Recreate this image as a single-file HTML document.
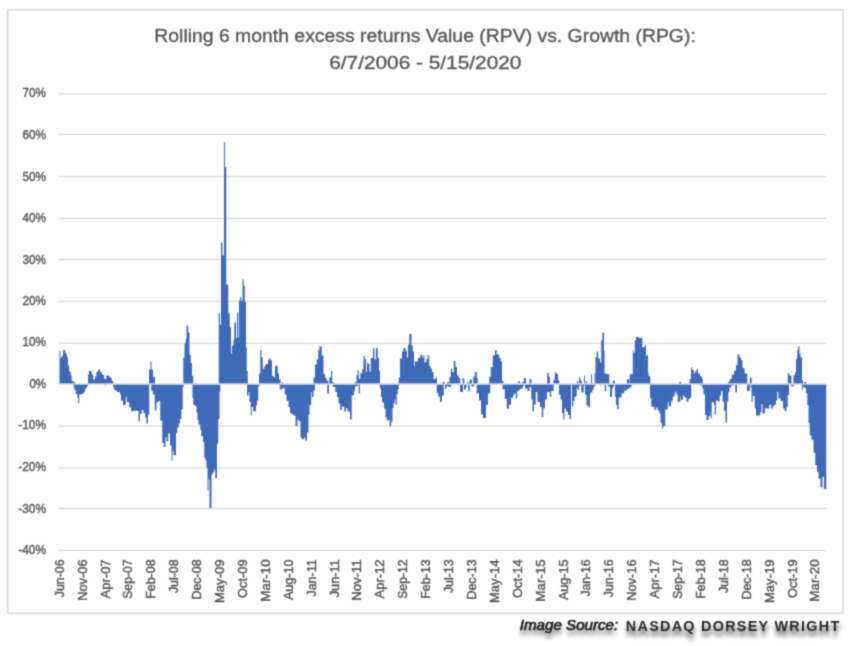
<!DOCTYPE html><html><head><meta charset="utf-8"><style>html,body{margin:0;padding:0;background:#fff;}svg{display:block;font-family:"Liberation Sans",sans-serif;will-change:transform;}</style></head><body><svg xml:space="preserve" width="853" height="646" viewBox="0 0 853 646" font-family="Liberation Sans, sans-serif"><defs><filter id="soft" x="0" y="0" width="853" height="646" filterUnits="userSpaceOnUse" color-interpolation-filters="sRGB"><feConvolveMatrix order="3" kernelMatrix="1 2 1 2 10 2 1 2 1" divisor="22" edgeMode="duplicate"/></filter></defs><g filter="url(#soft)"><rect width="853" height="646" fill="#fff"/><rect x="7.7" y="9.7" width="835.2" height="603.6" fill="none" stroke="#d6d6d6" stroke-width="1.5"/><g fill="#595959" stroke="#595959" stroke-width="0.4" font-size="19.2"><text x="154.3" y="41.9" textLength="541.5" lengthAdjust="spacingAndGlyphs">Rolling 6 month excess returns Value (RPV)  vs. Growth (RPG):</text><text x="329.2" y="68.9" textLength="192.2" lengthAdjust="spacingAndGlyphs">6/7/2006 - 5/15/2020</text></g><rect x="58.9" y="93.45" width="767.3" height="1.1" fill="#d6d6d6"/><rect x="58.9" y="133.95" width="767.3" height="1.1" fill="#d6d6d6"/><rect x="58.9" y="175.95" width="767.3" height="1.1" fill="#d6d6d6"/><rect x="58.9" y="217.95" width="767.3" height="1.1" fill="#d6d6d6"/><rect x="58.9" y="258.85" width="767.3" height="1.1" fill="#d6d6d6"/><rect x="58.9" y="300.75" width="767.3" height="1.1" fill="#d6d6d6"/><rect x="58.9" y="342.75" width="767.3" height="1.1" fill="#d6d6d6"/><rect x="58.9" y="425.45" width="767.3" height="1.1" fill="#d6d6d6"/><rect x="58.9" y="467.45" width="767.3" height="1.1" fill="#d6d6d6"/><rect x="58.9" y="507.95" width="767.3" height="1.1" fill="#d6d6d6"/><rect x="58.9" y="549.95" width="767.3" height="1.1" fill="#d6d6d6"/><g font-size="12.8" fill="#595959" stroke="#595959" stroke-width="0.45"><text x="46.0" y="96.69" text-anchor="end" textLength="23.51" lengthAdjust="spacingAndGlyphs">70%</text><text x="46.0" y="138.69" text-anchor="end" textLength="23.51" lengthAdjust="spacingAndGlyphs">60%</text><text x="46.0" y="180.79" text-anchor="end" textLength="23.51" lengthAdjust="spacingAndGlyphs">50%</text><text x="46.0" y="221.69" text-anchor="end" textLength="23.51" lengthAdjust="spacingAndGlyphs">40%</text><text x="46.0" y="263.69" text-anchor="end" textLength="23.51" lengthAdjust="spacingAndGlyphs">30%</text><text x="46.0" y="305.49" text-anchor="end" textLength="23.51" lengthAdjust="spacingAndGlyphs">20%</text><text x="46.0" y="346.29" text-anchor="end" textLength="23.51" lengthAdjust="spacingAndGlyphs">10%</text><text x="46.0" y="388.29" text-anchor="end" textLength="16.62" lengthAdjust="spacingAndGlyphs">0%</text><text x="46.0" y="429.09" text-anchor="end" textLength="27.68" lengthAdjust="spacingAndGlyphs">-10%</text><text x="46.0" y="471.29" text-anchor="end" textLength="27.68" lengthAdjust="spacingAndGlyphs">-20%</text><text x="46.0" y="513.09" text-anchor="end" textLength="27.68" lengthAdjust="spacingAndGlyphs">-30%</text><text x="46.0" y="553.89" text-anchor="end" textLength="27.68" lengthAdjust="spacingAndGlyphs">-40%</text></g><path fill="#3F69B9" d="M59.50 351.0h1.00V384.0h-1.00ZM60.50 357.9h1.25V384.0h-1.25ZM61.75 356.0h1.25V384.0h-1.25ZM63.00 352.8h0.25V384.0h-0.25ZM63.25 350.0h2.00V384.0h-2.00ZM65.25 352.8h0.75V384.0h-0.75ZM66.00 354.2h1.00V384.0h-1.00ZM67.00 357.0h1.00V384.0h-1.00ZM68.00 365.4h1.00V384.0h-1.00ZM69.00 370.9h0.75V384.0h-0.75ZM69.75 371.9h1.00V384.0h-1.00ZM70.75 375.6h1.00V384.0h-1.00ZM71.75 381.1h1.00V384.0h-1.00ZM72.75 381.6h0.75V384.0h-0.75ZM73.50 381.6h0.75V387.6h-0.75ZM74.25 382.5h0.25V387.6h-0.25ZM74.50 382.5h1.00V390.4h-1.00ZM75.50 384.0h0.50V390.4h-0.50ZM76.00 384.0h1.25V394.1h-1.25ZM77.25 384.0h1.00V397.4h-1.00ZM78.25 384.0h1.00V403.0h-1.00ZM79.25 384.0h1.50V394.6h-1.50ZM80.75 384.0h2.25V394.1h-2.25ZM83.00 384.0h1.00V393.2h-1.00ZM84.00 384.0h1.25V391.4h-1.25ZM85.25 384.0h1.50V388.6h-1.50ZM86.75 384.0h1.25V386.2h-1.25ZM88.00 374.6h1.00V384.0h-1.00ZM89.00 370.9h2.75V384.0h-2.75ZM91.75 374.6h1.50V384.0h-1.50ZM93.25 379.7h1.25V384.0h-1.25ZM94.50 378.5h0.50V384.0h-0.50ZM95.00 376.6h1.50V384.0h-1.50ZM96.50 371.7h1.75V384.0h-1.75ZM98.25 369.8h2.00V384.0h-2.00ZM100.25 372.3h1.75V384.0h-1.75ZM102.00 374.8h2.00V384.0h-2.00ZM104.00 378.5h1.25V384.0h-1.25ZM105.25 378.5h0.25V385.7h-0.25ZM105.50 379.7h0.50V385.7h-0.50ZM106.00 379.7h0.25V384.0h-0.25ZM106.25 375.4h2.50V384.0h-2.50ZM108.75 376.6h1.50V384.0h-1.50ZM110.25 377.9h1.50V384.0h-1.50ZM111.75 381.0h1.25V384.0h-1.25ZM113.00 381.0h0.25V387.2h-0.25ZM113.25 384.0h1.00V387.2h-1.00ZM114.25 384.0h2.50V390.2h-2.50ZM116.75 384.0h3.25V392.1h-3.25ZM120.00 384.0h1.00V394.6h-1.00ZM121.00 384.0h2.00V400.8h-2.00ZM123.00 384.0h2.75V405.1h-2.75ZM125.75 384.0h1.00V397.0h-1.00ZM126.75 384.0h2.50V402.0h-2.50ZM129.25 384.0h1.75V407.0h-1.75ZM131.00 384.0h2.00V411.3h-2.00ZM133.00 384.0h5.50V410.7h-5.50ZM138.50 384.0h1.50V421.2h-1.50ZM140.00 384.0h1.75V413.8h-1.75ZM141.75 384.0h1.75V410.0h-1.75ZM143.50 384.0h1.75V413.2h-1.75ZM145.25 384.0h1.25V417.5h-1.25ZM146.50 384.0h1.50V423.7h-1.50ZM148.00 384.0h1.00V414.4h-1.00ZM149.00 369.5h0.25V414.4h-0.25ZM149.25 369.5h1.25V384.0h-1.25ZM150.50 361.5h0.75V384.0h-0.75ZM151.25 361.5h0.25V391.1h-0.25ZM151.50 369.5h1.25V391.1h-1.25ZM152.75 369.5h0.25V394.6h-0.25ZM153.00 377.0h1.75V394.6h-1.75ZM154.75 377.0h0.25V410.6h-0.25ZM155.00 384.0h1.50V410.6h-1.50ZM156.50 384.0h2.00V402.3h-2.00ZM158.50 384.0h1.75V400.9h-1.75ZM160.25 384.0h2.00V420.4h-2.00ZM162.25 384.0h1.50V442.7h-1.50ZM163.75 384.0h1.75V446.9h-1.75ZM165.50 384.0h1.00V437.1h-1.00ZM166.50 384.0h1.75V441.3h-1.75ZM168.25 384.0h1.75V433.6h-1.75ZM170.00 384.0h1.50V445.5h-1.50ZM171.50 384.0h1.00V460.8h-1.00ZM172.50 384.0h1.00V451.0h-1.00ZM173.50 384.0h2.50V455.2h-2.50ZM176.00 384.0h1.25V432.9h-1.25ZM177.25 384.0h1.50V427.4h-1.50ZM178.75 384.0h1.25V423.2h-1.25ZM180.00 384.0h1.50V419.0h-1.50ZM181.50 384.0h1.25V409.3h-1.25ZM182.75 384.0h0.50V387.0h-0.50ZM183.25 357.8h0.25V387.0h-0.25ZM183.50 357.8h1.00V384.0h-1.00ZM184.50 343.5h1.25V384.0h-1.25ZM185.75 338.6h0.75V384.0h-0.75ZM186.50 325.6h1.75V384.0h-1.75ZM188.25 332.4h1.25V384.0h-1.25ZM189.50 354.7h1.25V384.0h-1.25ZM190.75 363.3h1.25V384.0h-1.25ZM192.00 375.7h0.50V384.0h-0.50ZM192.50 375.7h0.75V397.9h-0.75ZM193.25 384.0h1.50V404.4h-1.50ZM194.75 384.0h1.75V406.0h-1.75ZM196.50 384.0h1.00V412.5h-1.00ZM197.50 384.0h1.00V420.1h-1.00ZM198.50 384.0h1.75V424.4h-1.75ZM200.25 384.0h1.00V429.8h-1.00ZM201.25 384.0h1.75V436.3h-1.75ZM203.00 384.0h1.25V442.0h-1.25ZM204.25 384.0h1.00V457.4h-1.00ZM205.25 384.0h1.25V460.3h-1.25ZM206.50 384.0h1.00V467.9h-1.00ZM207.50 384.0h1.00V491.1h-1.00ZM208.50 384.0h1.00V479.5h-1.00ZM209.50 384.0h2.00V507.9h-2.00ZM211.50 384.0h1.00V474.8h-1.00ZM212.50 384.0h1.75V472.5h-1.75ZM214.25 384.0h1.00V469.6h-1.00ZM215.25 384.0h1.75V478.3h-1.75ZM217.00 384.0h1.25V443.7h-1.25ZM218.25 384.0h0.50V419.0h-0.50ZM218.75 313.2h0.75V419.0h-0.75ZM219.50 313.2h0.50V391.9h-0.50ZM220.00 324.8h0.25V391.9h-0.25ZM220.25 324.8h0.75V384.0h-0.75ZM221.00 242.4h1.50V384.0h-1.50ZM222.50 255.4h1.50V384.0h-1.50ZM224.00 142.1h1.00V384.0h-1.00ZM225.00 167.0h1.25V384.0h-1.25ZM226.25 284.5h2.00V384.0h-2.00ZM228.25 313.2h1.50V384.0h-1.50ZM229.75 327.2h1.25V384.0h-1.25ZM231.00 353.5h1.00V384.0h-1.00ZM232.00 345.7h1.50V384.0h-1.50ZM233.50 339.5h0.75V384.0h-0.75ZM234.25 322.5h1.75V384.0h-1.75ZM236.00 338.0h1.00V384.0h-1.00ZM237.00 312.4h1.25V384.0h-1.25ZM238.25 338.0h0.75V384.0h-0.75ZM239.00 300.6h1.25V384.0h-1.25ZM240.25 296.9h1.25V384.0h-1.25ZM241.50 301.2h1.00V384.0h-1.00ZM242.50 279.5h1.25V384.0h-1.25ZM243.75 285.7h1.00V384.0h-1.00ZM244.75 301.8h1.25V384.0h-1.25ZM246.00 347.4h0.75V384.0h-0.75ZM246.75 371.0h0.25V384.0h-0.25ZM247.00 371.0h0.75V395.7h-0.75ZM247.75 384.0h0.75V395.7h-0.75ZM248.50 384.0h1.00V392.0h-1.00ZM249.50 384.0h1.25V401.9h-1.25ZM250.75 384.0h1.00V415.5h-1.00ZM251.75 384.0h1.50V406.9h-1.50ZM253.25 384.0h2.75V411.2h-2.75ZM256.00 384.0h1.00V405.6h-1.00ZM257.00 384.0h1.25V400.7h-1.25ZM258.25 384.0h0.75V386.4h-0.75ZM259.00 373.4h0.50V386.4h-0.50ZM259.50 373.4h0.75V384.0h-0.75ZM260.25 349.9h1.25V384.0h-1.25ZM261.50 357.3h1.25V384.0h-1.25ZM262.75 369.1h1.50V384.0h-1.50ZM264.25 366.0h1.25V384.0h-1.25ZM265.50 364.1h2.50V384.0h-2.50ZM268.00 359.8h1.25V384.0h-1.25ZM269.25 358.6h1.50V384.0h-1.50ZM270.75 360.4h1.25V384.0h-1.25ZM272.00 375.9h1.75V384.0h-1.75ZM273.75 377.2h1.25V384.0h-1.25ZM275.00 366.6h1.25V384.0h-1.25ZM276.25 365.4h1.50V384.0h-1.50ZM277.75 373.4h1.25V384.0h-1.25ZM279.00 379.6h0.75V384.0h-0.75ZM279.75 379.6h0.75V389.5h-0.75ZM280.50 384.0h1.25V389.5h-1.25ZM281.75 382.1h0.25V389.5h-0.25ZM282.00 382.1h1.00V388.3h-1.00ZM283.00 384.0h1.75V388.3h-1.75ZM284.75 384.0h1.75V394.5h-1.75ZM286.50 384.0h2.00V400.7h-2.00ZM288.50 384.0h1.50V406.9h-1.50ZM290.00 384.0h1.50V413.1h-1.50ZM291.50 384.0h2.00V414.3h-2.00ZM293.50 384.0h2.00V415.5h-2.00ZM295.50 384.0h2.00V426.1h-2.00ZM297.50 384.0h1.25V419.6h-1.25ZM298.75 384.0h1.75V421.3h-1.75ZM300.50 384.0h1.50V437.5h-1.50ZM302.00 384.0h2.00V439.2h-2.00ZM304.00 384.0h1.25V437.5h-1.25ZM305.25 384.0h1.75V440.8h-1.75ZM307.00 384.0h1.50V432.7h-1.50ZM308.50 384.0h1.00V414.8h-1.00ZM309.50 384.0h1.75V405.0h-1.75ZM311.25 384.0h0.75V392.0h-0.75ZM312.00 384.0h1.50V396.9h-1.50ZM313.50 377.4h1.50V390.4h-1.50ZM315.00 364.4h1.75V384.0h-1.75ZM316.75 359.5h1.50V384.0h-1.50ZM318.25 349.8h1.25V384.0h-1.25ZM319.50 346.5h2.25V384.0h-2.25ZM321.75 355.4h1.75V384.0h-1.75ZM323.50 374.1h1.50V384.0h-1.50ZM325.00 377.4h1.50V384.0h-1.50ZM326.50 380.6h0.75V384.0h-0.75ZM327.25 380.6h1.00V393.6h-1.00ZM328.25 384.0h0.75V393.6h-0.75ZM329.25 377.4h1.75V384.0h-1.75ZM331.00 370.9h1.25V384.0h-1.25ZM332.25 382.3h0.75V384.0h-0.75ZM333.00 382.3h1.00V387.1h-1.00ZM334.00 384.0h1.25V387.1h-1.25ZM335.25 384.0h1.75V392.0h-1.75ZM337.00 384.0h1.50V396.9h-1.50ZM338.50 384.0h1.75V403.4h-1.75ZM340.25 384.0h1.75V409.9h-1.75ZM342.00 384.0h2.25V406.6h-2.25ZM344.25 384.0h1.75V411.5h-1.75ZM346.00 384.0h1.50V408.3h-1.50ZM347.50 384.0h2.50V411.5h-2.50ZM350.00 384.0h1.75V419.6h-1.75ZM351.75 384.0h2.25V395.3h-2.25ZM354.00 384.0h0.75V391.3h-0.75ZM354.75 382.2h0.25V391.3h-0.25ZM355.00 382.2h1.50V386.4h-1.50ZM356.50 375.3h1.00V385.7h-1.00ZM357.50 370.4h1.00V385.7h-1.00ZM358.50 370.4h0.25V384.0h-0.25ZM358.75 378.8h1.25V393.4h-1.25ZM360.00 378.8h0.25V384.0h-0.25ZM360.25 373.2h2.00V384.0h-2.00ZM362.25 369.0h1.25V384.0h-1.25ZM363.50 355.8h1.25V384.0h-1.25ZM364.75 359.3h1.25V384.0h-1.25ZM366.00 371.8h1.00V384.0h-1.00ZM367.00 362.7h1.25V384.0h-1.25ZM368.25 364.1h1.25V384.0h-1.25ZM369.50 371.8h1.25V384.0h-1.25ZM370.75 357.9h2.25V384.0h-2.25ZM373.00 348.1h1.50V384.0h-1.50ZM374.50 359.3h1.50V384.0h-1.50ZM376.00 348.1h1.75V384.0h-1.75ZM377.75 357.9h1.25V384.0h-1.25ZM379.00 370.4h0.75V384.0h-0.75ZM379.75 370.4h0.25V388.5h-0.25ZM380.00 384.0h1.00V388.5h-1.00ZM381.00 384.0h1.00V397.0h-1.00ZM382.00 384.0h2.00V402.4h-2.00ZM384.00 384.0h1.50V408.6h-1.50ZM385.50 384.0h1.25V417.2h-1.25ZM386.75 384.0h2.25V420.6h-2.25ZM389.00 384.0h0.75V419.5h-0.75ZM389.75 384.0h1.50V426.4h-1.50ZM391.25 384.0h1.25V421.8h-1.25ZM392.50 384.0h1.00V407.9h-1.00ZM393.50 384.0h1.25V403.2h-1.25ZM394.75 384.0h0.75V399.3h-0.75ZM395.50 384.0h1.25V404.8h-1.25ZM396.75 384.0h1.00V393.9h-1.00ZM397.75 384.0h1.00V389.3h-1.00ZM398.75 377.4h1.25V384.0h-1.25ZM400.00 358.4h2.00V384.0h-2.00ZM402.00 351.6h1.50V384.0h-1.50ZM403.50 347.9h2.25V384.0h-2.25ZM405.75 351.0h1.25V384.0h-1.25ZM407.00 357.8h1.00V384.0h-1.00ZM408.00 344.8h1.25V384.0h-1.25ZM409.25 333.7h2.25V384.0h-2.25ZM411.50 345.4h1.25V384.0h-1.25ZM412.75 351.6h1.25V384.0h-1.25ZM414.00 365.9h0.75V384.0h-0.75ZM414.75 361.5h3.25V384.0h-3.25ZM418.00 357.8h2.25V384.0h-2.25ZM420.25 354.7h2.25V384.0h-2.25ZM422.50 357.8h1.00V384.0h-1.00ZM423.50 355.3h1.00V384.0h-1.00ZM424.50 362.2h2.00V384.0h-2.00ZM426.50 359.1h1.25V384.0h-1.25ZM427.75 355.3h1.50V384.0h-1.50ZM429.25 365.9h1.25V384.0h-1.25ZM430.50 368.3h1.50V384.0h-1.50ZM432.00 372.1h1.50V384.0h-1.50ZM433.50 378.9h2.25V384.0h-2.25ZM435.75 377.6h1.00V384.0h-1.00ZM436.75 377.6h0.25V393.1h-0.25ZM437.00 384.0h1.25V393.1h-1.25ZM438.25 384.0h1.75V396.8h-1.75ZM440.00 384.0h2.00V401.8h-2.00ZM442.00 384.0h0.50V395.6h-0.50ZM442.50 382.0h1.25V395.6h-1.25ZM443.75 382.0h1.00V384.4h-1.00ZM444.75 384.0h0.25V384.4h-0.25ZM445.00 384.0h1.50V388.8h-1.50ZM446.50 384.0h0.50V386.3h-0.50ZM447.00 382.2h1.75V386.3h-1.75ZM448.75 382.2h0.75V386.9h-0.75ZM449.50 377.0h1.25V386.9h-1.25ZM450.75 369.0h0.25V386.9h-0.25ZM451.00 369.0h1.00V384.0h-1.00ZM452.00 372.1h1.75V384.0h-1.75ZM453.75 360.9h1.75V384.0h-1.75ZM455.50 367.1h1.50V384.0h-1.50ZM457.00 375.2h1.25V384.0h-1.25ZM458.25 377.0h0.75V384.0h-0.75ZM459.00 378.2h1.00V384.0h-1.00ZM460.00 378.2h0.25V392.1h-0.25ZM460.25 384.0h2.25V392.1h-2.25ZM462.50 378.2h0.50V392.1h-0.50ZM463.00 378.2h1.00V384.0h-1.00ZM464.00 378.2h0.25V390.0h-0.25ZM464.25 384.0h1.25V390.0h-1.25ZM465.50 384.0h1.00V387.9h-1.00ZM467.00 382.4h1.25V384.0h-1.25ZM468.25 382.4h1.50V391.4h-1.50ZM469.75 379.6h1.50V384.0h-1.50ZM471.25 379.6h0.75V386.5h-0.75ZM472.00 384.0h1.25V386.5h-1.25ZM473.25 376.8h1.00V386.5h-1.00ZM474.25 376.8h0.50V384.0h-0.50ZM474.75 371.9h2.00V384.0h-2.00ZM476.75 378.2h1.00V393.5h-1.00ZM477.75 384.0h1.25V393.5h-1.25ZM479.00 384.0h2.00V400.5h-2.00ZM481.00 384.0h2.00V414.4h-2.00ZM483.00 384.0h3.00V417.9h-3.00ZM486.00 384.0h2.00V404.7h-2.00ZM488.00 384.0h1.25V393.5h-1.25ZM489.25 376.8h1.00V393.5h-1.00ZM490.25 376.8h0.50V384.0h-0.50ZM490.75 367.0h2.00V384.0h-2.00ZM492.75 355.2h2.25V384.0h-2.25ZM495.00 350.3h1.75V384.0h-1.75ZM496.75 354.5h2.50V384.0h-2.50ZM499.25 358.0h1.50V384.0h-1.50ZM500.75 361.5h1.25V384.0h-1.25ZM502.00 381.0h0.50V384.0h-0.50ZM502.50 381.0h1.00V389.3h-1.00ZM503.50 384.0h1.25V389.3h-1.25ZM504.75 384.0h2.00V399.1h-2.00ZM506.75 384.0h2.25V408.8h-2.25ZM509.00 384.0h2.00V404.7h-2.00ZM511.00 384.0h2.25V397.7h-2.25ZM513.25 384.0h1.25V394.9h-1.25ZM514.50 384.0h1.25V393.3h-1.25ZM515.75 384.0h1.50V398.3h-1.50ZM517.25 384.0h1.00V390.9h-1.00ZM518.25 381.0h0.75V390.9h-0.75ZM519.00 381.0h0.75V389.6h-0.75ZM519.75 384.0h1.25V389.6h-1.25ZM521.00 384.0h1.00V388.4h-1.00ZM522.00 382.2h0.75V388.4h-0.75ZM522.75 382.2h1.00V385.9h-1.00ZM523.75 377.9h0.25V385.9h-0.25ZM524.00 377.9h1.00V384.0h-1.00ZM525.00 377.9h1.00V388.4h-1.00ZM526.00 384.0h1.50V388.4h-1.50ZM527.50 384.0h2.00V390.9h-2.00ZM529.50 379.1h1.75V387.2h-1.75ZM531.25 379.1h0.25V399.5h-0.25ZM531.50 384.0h1.00V399.5h-1.00ZM532.50 384.0h1.50V411.3h-1.50ZM534.00 384.0h1.75V404.5h-1.75ZM535.75 384.0h1.75V392.1h-1.75ZM537.50 384.0h2.50V402.0h-2.50ZM540.00 384.0h1.75V407.0h-1.75ZM541.75 384.0h1.50V416.9h-1.50ZM543.25 384.0h1.75V408.2h-1.75ZM545.00 384.0h2.00V399.5h-2.00ZM547.00 384.0h0.25V392.1h-0.25ZM547.25 372.9h1.50V392.1h-1.50ZM548.75 376.6h0.75V392.1h-0.75ZM549.50 376.6h0.25V392.0h-0.25ZM549.75 376.6h0.25V397.0h-0.25ZM550.00 384.0h1.25V397.0h-1.25ZM551.25 384.0h2.25V390.9h-2.25ZM553.50 379.7h0.25V390.9h-0.25ZM553.75 379.7h1.00V384.0h-1.00ZM554.75 372.3h1.50V384.0h-1.50ZM556.25 374.1h1.75V384.0h-1.75ZM558.00 380.3h1.00V384.0h-1.00ZM559.00 380.3h0.25V394.7h-0.25ZM559.25 384.0h1.25V394.7h-1.25ZM560.50 384.0h1.50V399.4h-1.50ZM562.00 384.0h1.25V413.3h-1.25ZM563.25 384.0h1.25V419.8h-1.25ZM564.50 384.0h1.50V408.6h-1.50ZM566.00 384.0h2.00V411.4h-2.00ZM568.00 384.0h1.50V415.1h-1.50ZM569.50 384.0h1.50V419.3h-1.50ZM572.00 384.0h1.25V406.4h-1.25ZM573.25 384.0h1.25V401.0h-1.25ZM574.50 384.0h1.00V397.1h-1.00ZM575.50 384.0h1.25V396.3h-1.25ZM576.75 384.0h0.25V387.8h-0.25ZM577.00 381.2h0.75V387.8h-0.75ZM577.75 381.2h0.50V390.1h-0.50ZM578.25 384.0h0.75V390.1h-0.75ZM579.00 377.7h1.25V386.3h-1.25ZM580.25 377.7h0.25V384.0h-0.25ZM580.50 380.8h0.75V384.0h-0.75ZM581.25 380.8h0.50V392.5h-0.50ZM581.75 384.0h2.00V392.5h-2.00ZM583.75 384.0h0.25V385.5h-0.25ZM584.00 375.4h1.00V385.5h-1.00ZM585.00 384.0h1.00V394.8h-1.00ZM586.00 381.2h0.50V394.8h-0.50ZM586.50 381.2h0.75V405.6h-0.75ZM587.25 384.0h1.25V405.6h-1.25ZM588.50 384.0h1.50V407.6h-1.50ZM590.00 384.0h1.00V393.2h-1.00ZM591.00 374.3h1.00V392.5h-1.00ZM592.00 384.0h0.50V392.5h-0.50ZM592.50 384.0h1.25V389.4h-1.25ZM593.75 384.0h0.75V386.3h-0.75ZM594.50 373.1h0.75V386.3h-0.75ZM595.50 357.0h1.25V384.0h-1.25ZM596.75 351.5h1.50V384.0h-1.50ZM598.25 358.4h1.75V384.0h-1.75ZM600.00 362.6h0.25V384.0h-0.25ZM600.25 362.6h0.75V385.5h-0.75ZM601.00 362.6h0.25V384.0h-0.25ZM601.25 340.3h1.00V384.0h-1.00ZM602.25 332.7h1.75V384.0h-1.75ZM604.00 350.8h0.50V384.0h-0.50ZM604.50 373.5h0.25V384.0h-0.25ZM604.75 373.5h1.50V391.3h-1.50ZM606.25 373.5h0.25V384.0h-0.25ZM606.50 374.3h1.75V384.0h-1.75ZM608.25 374.3h1.00V386.7h-1.00ZM609.25 384.0h0.75V386.7h-0.75ZM610.00 384.0h2.00V397.1h-2.00ZM612.00 384.0h1.00V388.6h-1.00ZM613.00 380.8h0.25V388.6h-0.25ZM613.25 380.8h1.00V386.3h-1.00ZM614.25 380.8h0.75V384.0h-0.75ZM615.00 384.0h1.00V397.1h-1.00ZM616.00 384.0h1.25V404.9h-1.25ZM617.25 384.0h1.50V409.3h-1.50ZM618.75 384.0h2.75V397.4h-2.75ZM621.50 384.0h2.75V393.3h-2.75ZM624.25 384.0h2.75V390.5h-2.75ZM627.00 379.3h2.25V389.1h-2.25ZM629.25 384.0h0.50V387.5h-0.50ZM629.75 373.8h1.00V387.5h-1.00ZM630.75 374.3h0.75V387.5h-0.75ZM631.50 374.3h1.25V384.0h-1.25ZM632.75 350.0h0.75V384.0h-0.75ZM633.50 352.8h1.25V384.0h-1.25ZM634.75 340.5h1.25V384.0h-1.25ZM636.00 337.0h2.75V384.0h-2.75ZM638.75 338.1h3.50V384.0h-3.50ZM642.25 347.2h2.50V384.0h-2.50ZM644.75 345.1h1.25V384.0h-1.25ZM646.00 356.0h1.25V384.0h-1.25ZM647.25 354.2h0.75V384.0h-0.75ZM648.00 372.6h0.50V384.0h-0.50ZM648.50 376.0h1.50V384.0h-1.50ZM650.00 376.0h0.25V398.0h-0.25ZM650.25 384.0h1.00V398.0h-1.00ZM651.25 384.0h1.25V406.3h-1.25ZM652.50 384.0h2.00V407.1h-2.00ZM654.50 384.0h1.75V410.0h-1.75ZM656.25 384.0h1.50V407.5h-1.50ZM657.75 384.0h1.75V410.4h-1.75ZM659.50 384.0h1.00V413.6h-1.00ZM660.50 384.0h1.50V422.7h-1.50ZM662.00 384.0h1.25V428.4h-1.25ZM663.25 384.0h2.00V426.0h-2.00ZM665.25 384.0h2.50V409.5h-2.50ZM667.75 384.0h1.00V402.1h-1.00ZM668.75 384.0h2.25V406.3h-2.25ZM671.00 384.0h1.75V401.3h-1.75ZM672.75 384.0h1.75V396.4h-1.75ZM674.50 384.0h1.00V393.5h-1.00ZM675.50 384.0h1.00V391.5h-1.00ZM676.50 384.0h1.25V394.8h-1.25ZM677.75 384.0h1.50V401.7h-1.50ZM679.25 381.9h1.25V401.7h-1.25ZM680.50 381.9h0.50V396.4h-0.50ZM681.00 381.9h0.25V399.7h-0.25ZM681.25 384.0h1.75V399.7h-1.75ZM683.00 384.0h1.50V395.6h-1.50ZM684.50 384.0h2.00V397.6h-2.00ZM686.50 384.0h1.75V401.7h-1.75ZM688.25 384.0h1.25V398.9h-1.25ZM689.50 379.0h0.50V398.9h-0.50ZM690.00 379.0h1.00V397.6h-1.00ZM691.00 367.2h0.25V397.6h-0.25ZM691.25 367.2h1.00V384.0h-1.00ZM692.25 370.0h1.50V384.0h-1.50ZM693.75 373.4h1.25V384.0h-1.25ZM695.00 371.3h1.50V384.0h-1.50ZM696.50 369.3h1.50V384.0h-1.50ZM698.00 373.4h2.00V384.0h-2.00ZM700.00 376.2h2.00V385.6h-2.00ZM702.00 379.0h0.25V385.6h-0.25ZM702.25 379.0h0.50V388.6h-0.50ZM702.75 384.0h0.75V388.6h-0.75ZM703.50 384.0h1.50V394.6h-1.50ZM705.00 384.0h1.50V415.0h-1.50ZM706.50 384.0h2.25V420.1h-2.25ZM708.75 384.0h1.75V415.9h-1.75ZM710.50 384.0h0.25V411.6h-0.25ZM710.75 384.0h1.00V418.4h-1.00ZM711.75 384.0h2.25V402.3h-2.25ZM714.00 384.0h0.75V405.0h-0.75ZM714.75 384.0h1.25V414.2h-1.25ZM716.00 384.0h2.00V400.6h-2.00ZM718.00 384.0h1.75V401.4h-1.75ZM719.75 384.0h1.25V395.4h-1.25ZM721.00 384.0h1.50V391.2h-1.50ZM722.50 384.0h1.50V401.4h-1.50ZM724.00 384.0h1.50V410.8h-1.50ZM725.50 384.0h1.50V422.7h-1.50ZM727.00 384.0h1.25V401.4h-1.25ZM728.25 381.8h1.25V392.0h-1.25ZM729.50 381.8h0.25V387.8h-0.25ZM729.75 379.0h1.25V387.8h-1.25ZM731.00 379.0h0.75V385.6h-0.75ZM731.75 374.8h2.25V385.6h-2.25ZM734.00 370.6h1.25V384.0h-1.25ZM735.25 370.6h0.75V392.2h-0.75ZM736.00 365.1h1.00V392.2h-1.00ZM737.00 365.1h0.50V384.0h-0.50ZM737.50 354.6h2.00V384.0h-2.00ZM739.50 357.4h1.50V384.0h-1.50ZM741.00 360.2h1.50V384.0h-1.50ZM742.50 367.9h2.00V384.0h-2.00ZM744.50 373.4h2.00V384.0h-2.00ZM746.50 373.3h0.50V384.0h-0.50ZM747.00 373.3h0.25V391.1h-0.25ZM747.25 384.0h2.50V391.1h-2.50ZM750.00 377.5h0.50V384.0h-0.50ZM750.50 377.5h0.75V388.0h-0.75ZM751.25 377.5h0.25V384.0h-0.25ZM751.50 377.5h0.25V401.7h-0.25ZM751.75 384.0h1.00V401.7h-1.00ZM752.75 384.0h2.00V396.1h-2.00ZM754.75 384.0h1.25V408.5h-1.25ZM756.00 384.0h4.25V415.6h-4.25ZM760.25 384.0h1.25V412.2h-1.25ZM761.50 384.0h1.00V404.1h-1.00ZM762.50 384.0h2.50V413.4h-2.50ZM765.00 384.0h4.25V408.5h-4.25ZM769.25 384.0h1.75V404.8h-1.75ZM771.00 384.0h1.75V408.5h-1.75ZM772.75 384.0h1.50V406.0h-1.50ZM774.25 384.0h1.75V404.8h-1.75ZM776.00 384.0h1.25V400.4h-1.25ZM777.25 384.0h1.25V391.8h-1.25ZM778.50 384.0h2.25V398.6h-2.25ZM780.75 384.0h2.25V401.0h-2.25ZM783.00 384.0h1.50V408.5h-1.50ZM784.50 384.0h2.00V411.0h-2.00ZM786.50 384.0h1.25V407.2h-1.25ZM787.75 373.3h1.25V394.9h-1.25ZM789.00 373.3h0.25V384.0h-0.25ZM789.25 375.4h2.00V384.0h-2.00ZM791.25 375.4h0.25V386.5h-0.25ZM791.50 384.0h2.00V386.5h-2.00ZM793.50 375.3h1.50V384.0h-1.50ZM795.00 372.2h1.00V384.0h-1.00ZM796.00 359.2h1.25V384.0h-1.25ZM797.25 349.9h1.00V384.0h-1.00ZM798.25 346.2h1.25V384.0h-1.25ZM799.50 353.6h1.00V384.0h-1.00ZM800.50 357.3h1.25V384.0h-1.25ZM801.75 357.3h0.25V390.2h-0.25ZM802.00 380.2h0.75V390.2h-0.75ZM802.75 380.2h0.25V386.0h-0.25ZM803.00 384.0h0.50V386.0h-0.50ZM803.50 384.0h0.50V387.7h-0.50ZM804.00 382.1h2.00V387.7h-2.00ZM806.00 382.1h0.25V393.3h-0.25ZM806.25 384.0h1.00V393.3h-1.00ZM807.25 384.0h1.25V405.0h-1.25ZM808.50 384.0h1.25V423.3h-1.25ZM809.75 384.0h1.75V435.5h-1.75ZM811.50 384.0h2.00V439.8h-2.00ZM813.50 384.0h1.75V452.8h-1.75ZM815.25 384.0h1.75V465.0h-1.75ZM817.00 384.0h1.50V471.9h-1.50ZM818.50 384.0h2.00V478.8h-2.00ZM820.50 384.0h2.00V487.5h-2.00ZM822.50 384.0h1.50V477.1h-1.50ZM824.00 384.0h2.25V489.2h-2.25Z"/><rect x="58.9" y="383.3" width="767.3" height="1.45" fill="#dadada"/><g font-size="12.4" fill="#595959" stroke="#595959" stroke-width="0.45"><text transform="translate(63.75 559.4) rotate(-90)" text-anchor="end" textLength="37.85" lengthAdjust="spacingAndGlyphs">Jun-06</text><text transform="translate(86.65 559.4) rotate(-90)" text-anchor="end" textLength="41.43" lengthAdjust="spacingAndGlyphs">Nov-06</text><text transform="translate(109.55 559.4) rotate(-90)" text-anchor="end" textLength="39.02" lengthAdjust="spacingAndGlyphs">Apr-07</text><text transform="translate(132.45 559.4) rotate(-90)" text-anchor="end" textLength="39.43" lengthAdjust="spacingAndGlyphs">Sep-07</text><text transform="translate(155.35 559.4) rotate(-90)" text-anchor="end" textLength="39.43" lengthAdjust="spacingAndGlyphs">Feb-08</text><text transform="translate(178.25 559.4) rotate(-90)" text-anchor="end" textLength="33.70" lengthAdjust="spacingAndGlyphs">Jul-08</text><text transform="translate(201.15 559.4) rotate(-90)" text-anchor="end" textLength="40.18" lengthAdjust="spacingAndGlyphs">Dec-08</text><text transform="translate(224.05 559.4) rotate(-90)" text-anchor="end" textLength="43.70" lengthAdjust="spacingAndGlyphs">May-09</text><text transform="translate(246.95 559.4) rotate(-90)" text-anchor="end" textLength="38.56" lengthAdjust="spacingAndGlyphs">Oct-09</text><text transform="translate(269.85 559.4) rotate(-90)" text-anchor="end" textLength="42.24" lengthAdjust="spacingAndGlyphs">Mar-10</text><text transform="translate(292.75 559.4) rotate(-90)" text-anchor="end" textLength="40.73" lengthAdjust="spacingAndGlyphs">Aug-10</text><text transform="translate(315.65 559.4) rotate(-90)" text-anchor="end" textLength="37.20" lengthAdjust="spacingAndGlyphs">Jan-11</text><text transform="translate(338.55 559.4) rotate(-90)" text-anchor="end" textLength="37.85" lengthAdjust="spacingAndGlyphs">Jun-11</text><text transform="translate(361.45 559.4) rotate(-90)" text-anchor="end" textLength="41.43" lengthAdjust="spacingAndGlyphs">Nov-11</text><text transform="translate(384.35 559.4) rotate(-90)" text-anchor="end" textLength="39.02" lengthAdjust="spacingAndGlyphs">Apr-12</text><text transform="translate(407.25 559.4) rotate(-90)" text-anchor="end" textLength="39.43" lengthAdjust="spacingAndGlyphs">Sep-12</text><text transform="translate(430.15 559.4) rotate(-90)" text-anchor="end" textLength="39.43" lengthAdjust="spacingAndGlyphs">Feb-13</text><text transform="translate(453.05 559.4) rotate(-90)" text-anchor="end" textLength="33.70" lengthAdjust="spacingAndGlyphs">Jul-13</text><text transform="translate(475.95 559.4) rotate(-90)" text-anchor="end" textLength="40.18" lengthAdjust="spacingAndGlyphs">Dec-13</text><text transform="translate(498.85 559.4) rotate(-90)" text-anchor="end" textLength="43.70" lengthAdjust="spacingAndGlyphs">May-14</text><text transform="translate(521.75 559.4) rotate(-90)" text-anchor="end" textLength="38.56" lengthAdjust="spacingAndGlyphs">Oct-14</text><text transform="translate(544.65 559.4) rotate(-90)" text-anchor="end" textLength="42.24" lengthAdjust="spacingAndGlyphs">Mar-15</text><text transform="translate(567.55 559.4) rotate(-90)" text-anchor="end" textLength="40.73" lengthAdjust="spacingAndGlyphs">Aug-15</text><text transform="translate(590.45 559.4) rotate(-90)" text-anchor="end" textLength="37.20" lengthAdjust="spacingAndGlyphs">Jan-16</text><text transform="translate(613.35 559.4) rotate(-90)" text-anchor="end" textLength="37.85" lengthAdjust="spacingAndGlyphs">Jun-16</text><text transform="translate(636.25 559.4) rotate(-90)" text-anchor="end" textLength="41.43" lengthAdjust="spacingAndGlyphs">Nov-16</text><text transform="translate(659.15 559.4) rotate(-90)" text-anchor="end" textLength="39.02" lengthAdjust="spacingAndGlyphs">Apr-17</text><text transform="translate(682.05 559.4) rotate(-90)" text-anchor="end" textLength="39.43" lengthAdjust="spacingAndGlyphs">Sep-17</text><text transform="translate(704.95 559.4) rotate(-90)" text-anchor="end" textLength="39.43" lengthAdjust="spacingAndGlyphs">Feb-18</text><text transform="translate(727.85 559.4) rotate(-90)" text-anchor="end" textLength="33.70" lengthAdjust="spacingAndGlyphs">Jul-18</text><text transform="translate(750.75 559.4) rotate(-90)" text-anchor="end" textLength="40.18" lengthAdjust="spacingAndGlyphs">Dec-18</text><text transform="translate(773.65 559.4) rotate(-90)" text-anchor="end" textLength="43.70" lengthAdjust="spacingAndGlyphs">May-19</text><text transform="translate(796.55 559.4) rotate(-90)" text-anchor="end" textLength="38.56" lengthAdjust="spacingAndGlyphs">Oct-19</text><text transform="translate(819.45 559.4) rotate(-90)" text-anchor="end" textLength="42.24" lengthAdjust="spacingAndGlyphs">Mar-20</text></g><defs><filter id="sh" x="-5%" y="-60%" width="110%" height="300%"><feGaussianBlur stdDeviation="2"/></filter></defs><g filter="url(#sh)" fill="#000" stroke="#000" opacity="0.45" transform="translate(0.5 4.5)"><text x="519.8" y="630.2" font-size="13.8" font-style="italic" stroke-width="0.65" textLength="98.4" lengthAdjust="spacingAndGlyphs">Image Source:</text><text x="625.8" y="631" font-size="14.4" font-weight="bold" textLength="213.4" lengthAdjust="spacing">NASDAQ DORSEY WRIGHT</text></g><g fill="#1e1e1e" stroke="#1e1e1e"><text x="519.8" y="630.2" font-size="13.8" font-style="italic" stroke-width="0.65" textLength="98.4" lengthAdjust="spacingAndGlyphs">Image Source:</text></g><g fill="#2a2a2a"><text x="625.8" y="631" font-size="14.4" font-weight="bold" textLength="213.4" lengthAdjust="spacing">NASDAQ DORSEY WRIGHT</text></g></g></svg></body></html>
